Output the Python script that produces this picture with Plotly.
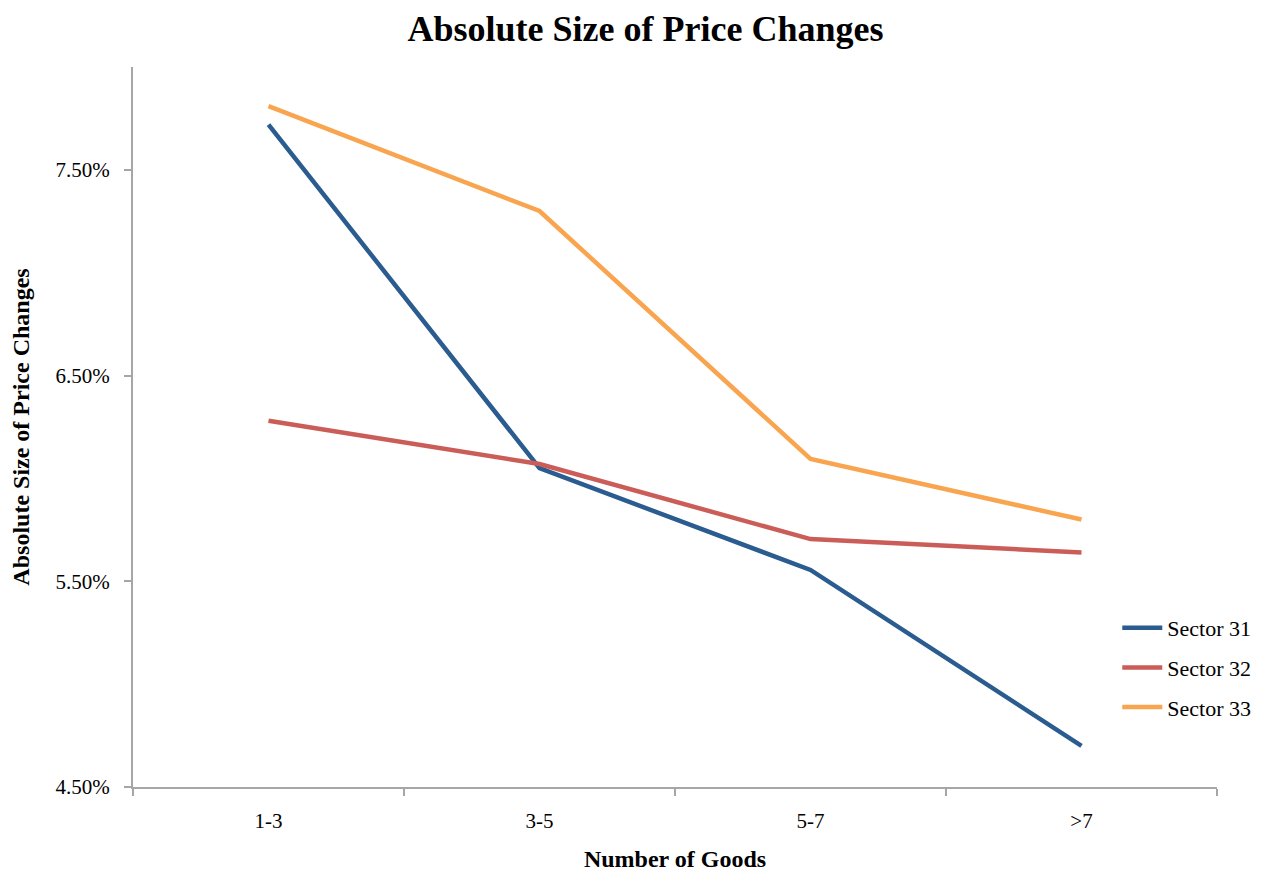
import plotly.graph_objects as go

categories = ["1-3", "3-5", "5-7", ">7"]
sector31 = [0.0772, 0.0605, 0.05555, 0.0470]
sector32 = [0.0628, 0.0607, 0.05705, 0.0564]
sector33 = [0.0781, 0.0730, 0.06095, 0.0580]
series_names = ["Sector 31", "Sector 32", "Sector 33"]
colors = ["#2B5C8F", "#CB5D58", "#F9A550"]
y_ticks = [0.045, 0.055, 0.065, 0.075]

FONT = "Liberation Serif"

fig = go.Figure()
for name, vals, col in zip(series_names, [sector31, sector32, sector33], colors):
    fig.add_trace(go.Scatter(x=categories, y=vals, mode="lines", name=name,
                             legendgroup=name,
                             line=dict(color=col, width=4.5)))

W, H = 1275, 876
fig.update_layout(
    width=W, height=H,
    paper_bgcolor="white", plot_bgcolor="white",
    margin=dict(l=125, r=66, t=59, b=97),
    font=dict(family=FONT, color="black", size=21),
    title=dict(text="<b>Absolute Size of Price Changes</b>", x=0.5, xanchor="center",
               y=1 - 20 / H, yanchor="middle", font=dict(size=36, family=FONT)),
    showlegend=True,
    legend=dict(x=0.908, xanchor="left", y=0.25, yanchor="top",
                font=dict(size=22, family=FONT), tracegroupgap=8,
                itemwidth=40, bgcolor="rgba(0,0,0,0)"),
    xaxis=dict(type="category", range=[-0.5, 3.5], tickson="boundaries",
               ticks="outside", ticklen=7, tickcolor="#A6A6A6", tickwidth=2,
               showline=True, linecolor="#A6A6A6", linewidth=2,
               showgrid=False, zeroline=False, ticklabelstandoff=14,
               title=dict(text="<b>Number of Goods</b>", standoff=18,
                          font=dict(size=24, family=FONT)),
               tickfont=dict(size=21, family=FONT)),
    yaxis=dict(range=[0.045, 0.080], tickvals=y_ticks, tickformat=".2%",
               ticks="outside", ticklen=7, tickcolor="#A6A6A6", tickwidth=2,
               showline=True, linecolor="#A6A6A6", linewidth=2,
               showgrid=False, zeroline=False, ticklabelstandoff=10,
               title=dict(text="<b>Absolute Size of Price Changes</b>", standoff=19,
                          font=dict(size=24, family=FONT)),
               tickfont=dict(size=21, family=FONT)),
)

fig.write_html("out.html")
